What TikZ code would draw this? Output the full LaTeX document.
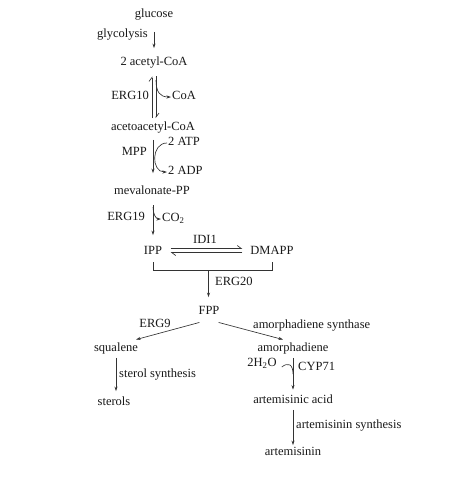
\documentclass[tikz,border=0pt]{standalone}
\usepackage{fontspec}
\setmainfont{Liberation Serif}
\usetikzlibrary{arrows.meta}
\begin{document}
\begin{tikzpicture}[x=1pt,y=-1pt,
  every node/.style={inner sep=0pt, text height=8pt, text depth=2.5pt, text=black!90, font=\fontsize{12.5}{14}\selectfont},
  line/.style={draw=black!80, line width=0.65pt},
  arr/.style={line, -{Stealth[length=4.5pt,width=3pt]}},
  harp/.style={line, -{Straight Barb[harpoon,length=4pt,width=6pt]}}]
\useasboundingbox (0,0) rectangle (455,480);
\fill[white] (0,0) rectangle (455,480);
% nodes
\node (glucose) at (154,15) {glucose};
\node[anchor=east] (glycolysis) at (148,35) {glycolysis};
\node (acetyl) at (154,63) {2 acetyl-CoA};
\node[anchor=east] (erg10) at (149,97) {ERG10};
\node[anchor=west] (coa) at (172,97) {CoA};
\node (acetoacetyl) at (153,128) {acetoacetyl-CoA};
\node[anchor=east] (mpp) at (147,153) {MPP};
\node[anchor=west] (atp) at (168,143) {2 ATP};
\node[anchor=west] (adp) at (168,172) {2 ADP};
\node (mev) at (152,192) {mevalonate-PP};
\node[anchor=east] (erg19) at (145,218) {ERG19};
\node[anchor=west] (co2) at (162,219) {CO\textsubscript{2}};
\node (ipp) at (153,252) {IPP};
\node (dmapp) at (272,252) {DMAPP};
\node (idi1) at (205,241) {IDI1};
\node[anchor=west] (erg20) at (215,283) {ERG20};
\node (fpp) at (209,312) {FPP};
\node (erg9) at (155,325) {ERG9};
\node (squalene) at (116,349) {squalene};
\node[anchor=west] (sterolsyn) at (119,375) {sterol synthesis};
\node (sterols) at (114,403) {sterols};
\node[anchor=west] (amsyn) at (253,326) {amorphadiene synthase};
\node (amorph) at (293,349) {amorphadiene};
\node (h2o) at (262,364) {2H\textsubscript{2}O};
\node[anchor=west] (cyp) at (298,368) {CYP71};
\node (artacid) at (293,401) {artemisinic acid};
\node[anchor=west] (artsyn) at (296,426) {artemisinin synthesis};
\node (artemisinin) at (293,453) {artemisinin};
% helper coordinates
\coordinate (c1) at (156,80);
\coordinate (c2) at (153,207);
\coordinate (bl) at (153,270);
\coordinate (br) at (272,270);
\coordinate (bm) at (208.5,270);
\coordinate (j2) at (293,374);
% connectors
\draw[arr, shorten <=11.5pt, shorten >=9.5pt] (glucose.south) -- (glucose.south |- acetyl.north);
\draw[harp, shorten <=4.5pt, shorten >=8pt] ([xshift=-1pt]acetoacetyl.north) -- ([xshift=-1pt]acetoacetyl.north |- acetyl.south);
\draw[harp, shorten <=8pt, shorten >=4.5pt] ([xshift=3pt]acetoacetyl.north |- acetyl.south) -- ([xshift=3pt]acetoacetyl.north);
\draw[arr, shorten >=1pt] (c1) .. controls (156,92) and (160,97) .. (coa.west);
\draw[arr, shorten <=6.5pt, shorten >=13.5pt] (acetoacetyl.south) -- (acetoacetyl.south |- mev.north);
\draw[arr, shorten <=1pt, shorten >=1pt] (atp.west) .. controls (151,143) and (151,172) .. (adp.west);
\draw[arr, shorten <=8pt, shorten >=11.5pt] ([xshift=1pt]mev.south) -- ([xshift=1pt]mev.south |- ipp.north);
\draw[arr, shorten >=1pt] (c2) .. controls (153,214) and (156,219) .. (co2.west);
\draw[harp, shorten <=8.5pt, shorten >=8pt] ([yshift=3.5pt]ipp.east) -- ([yshift=3.5pt]dmapp.west);
\draw[harp, shorten <=8pt, shorten >=8.5pt] ([yshift=-0.5pt]dmapp.west) -- ([yshift=-0.5pt]ipp.east);
\draw[line] ([yshift=-5pt]ipp.south) -- (bl) -- (br) -- ([yshift=-5pt]dmapp.south);
\draw[arr, shorten >=9.5pt] (bm) -- (bm |- fpp.north);
\draw[arr] ([xshift=1pt,yshift=-5pt]fpp.south west) -- ([xshift=-2pt,yshift=4pt]squalene.north east);
\draw[arr] ([xshift=-1pt,yshift=-5pt]fpp.south east) -- ([xshift=-10pt,yshift=4pt]amorph.north);
\draw[arr, shorten <=3.5pt, shorten >=6.5pt] (squalene.south) -- (squalene.south |- sterols.north);
\draw[arr, shorten <=3.5pt, shorten >=6pt] (amorph.south) -- (artacid.north);
\draw[line] ([xshift=5pt,yshift=-3pt]h2o.east) .. controls (288,362) and (293,364) .. (j2);
\draw[arr, shorten <=3.5pt, shorten >=2.5pt] (artacid.south) -- (artemisinin.north);
\end{tikzpicture}
\end{document}
